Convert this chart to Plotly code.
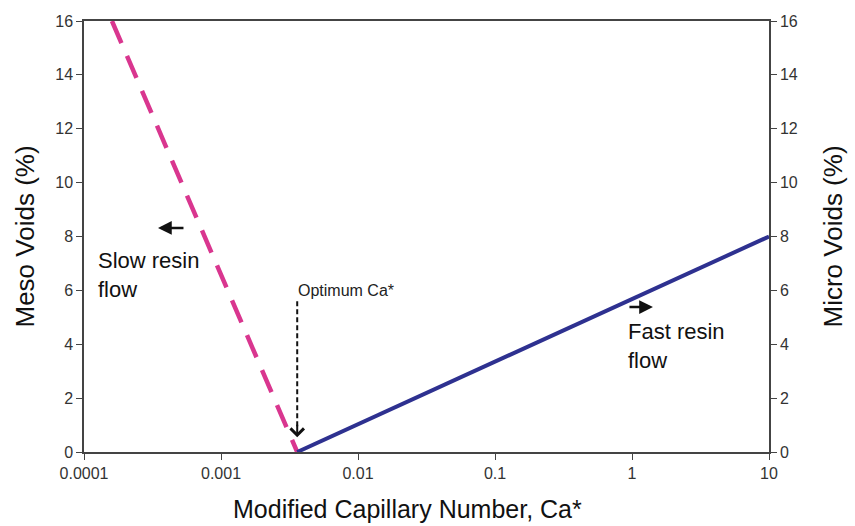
import math
import plotly.graph_objects as go

# Meso voids fall off as the capillary number rises (slow resin flow side)
meso_ca = [1.6e-4, 3.6e-3]
meso_voids = [16, 0]

# Micro voids grow with capillary number (fast resin flow side)
micro_ca = [3.6e-3, 10]
micro_voids = [0, 8]

# Optimum capillary number marker
optimum_ca = 3.6e-3
optimum_marker_y = [5.6, 0.9]

x_tickvals = [1e-4, 1e-3, 1e-2, 1e-1, 1, 10]
x_ticktext = ["0.0001", "0.001", "0.01", "0.1", "1", "10"]
y_tickvals = [0, 2, 4, 6, 8, 10, 12, 14, 16]

PINK = "#d9368f"
NAVY = "#2e3190"
AXIS = "#444444"
FAMILY = "Liberation Sans, Arial, sans-serif"
TICKFONT = dict(family=FAMILY, size=16, color="#333333")
LABELFONT = dict(family=FAMILY, size=22, color="#111111")
TITLEFONT = dict(family=FAMILY, size=26, color="#111111")

fig = go.Figure()

fig.add_trace(go.Scatter(
    x=meso_ca, y=meso_voids, mode="lines",
    line=dict(color=PINK, width=4.5, dash="24px,14px"),
    showlegend=False, yaxis="y",
))
fig.add_trace(go.Scatter(
    x=micro_ca, y=micro_voids, mode="lines",
    line=dict(color=NAVY, width=4),
    showlegend=False, yaxis="y2",
))
# dashed shaft of the optimum arrow
fig.add_trace(go.Scatter(
    x=[optimum_ca, optimum_ca], y=optimum_marker_y, mode="lines",
    line=dict(color="#111111", width=2, dash="5px,3px"),
    showlegend=False, yaxis="y",
))

lx = math.log10
annotations = [
    # optimum arrow head
    dict(x=lx(optimum_ca), y=0.55, xref="x", yref="y", ax=0, ay=-14,
         showarrow=True, arrowhead=4, arrowsize=1.3, arrowwidth=2, arrowcolor="#111111", text=""),
    dict(x=lx(optimum_ca), y=6.0, xref="x", yref="y", text="Optimum Ca*",
         showarrow=False, xanchor="left", yanchor="middle", xshift=-1,
         font=dict(family=FAMILY, size=16, color="#222222")),
    # slow resin flow
    dict(x=-3.46, y=8.32, xref="x", yref="y", ax=27, ay=0,
         showarrow=True, arrowhead=2, arrowsize=1.1, arrowwidth=2.5, arrowcolor="#111111", text=""),
    dict(x=-3.912, y=6.57, xref="x", yref="y", text="Slow resin<br>flow",
         showarrow=False, xanchor="left", yanchor="middle", align="left", font=LABELFONT),
    # fast resin flow
    dict(x=0.153, y=5.38, xref="x", yref="y", ax=-25, ay=0,
         showarrow=True, arrowhead=2, arrowsize=1.1, arrowwidth=2.5, arrowcolor="#111111", text=""),
    dict(x=-0.044, y=3.95, xref="x", yref="y", text="Fast resin<br>flow",
         showarrow=False, xanchor="left", yanchor="middle", align="left", font=LABELFONT),
    # axis titles
    dict(x=404 / 855, y=0, xref="paper", yref="paper", yshift=-57,
         text="Modified Capillary Number, Ca*", showarrow=False,
         xanchor="center", yanchor="middle",
         font=dict(family=FAMILY, size=25, color="#111111")),
    dict(x=0, y=0.5, xref="paper", yref="paper", xshift=-60,
         text="Meso Voids (%)", showarrow=False, textangle=-90,
         xanchor="center", yanchor="middle", font=TITLEFONT),
    dict(x=1, y=0.5, xref="paper", yref="paper", xshift=63,
         text="Micro Voids (%)", showarrow=False, textangle=-90,
         xanchor="center", yanchor="middle", font=TITLEFONT),
]

axis_common = dict(
    ticks="outside", ticklen=6, tickwidth=1.2, tickcolor=AXIS,
    showline=True, linecolor=AXIS, linewidth=1.5,
    showgrid=False, zeroline=False, tickfont=TICKFONT,
)

fig.update_layout(
    width=855, height=526,
    margin=dict(l=84, r=86, t=21, b=74),
    paper_bgcolor="white", plot_bgcolor="white",
    annotations=annotations,
    xaxis=dict(type="log", range=[-4, 1], tickvals=x_tickvals, ticktext=x_ticktext,
               mirror=True, **axis_common),
    yaxis=dict(range=[0, 16], tickvals=y_tickvals, **axis_common),
    yaxis2=dict(range=[0, 16], tickvals=y_tickvals, overlaying="y", side="right",
                **axis_common),
)

fig.write_html("out.html")
